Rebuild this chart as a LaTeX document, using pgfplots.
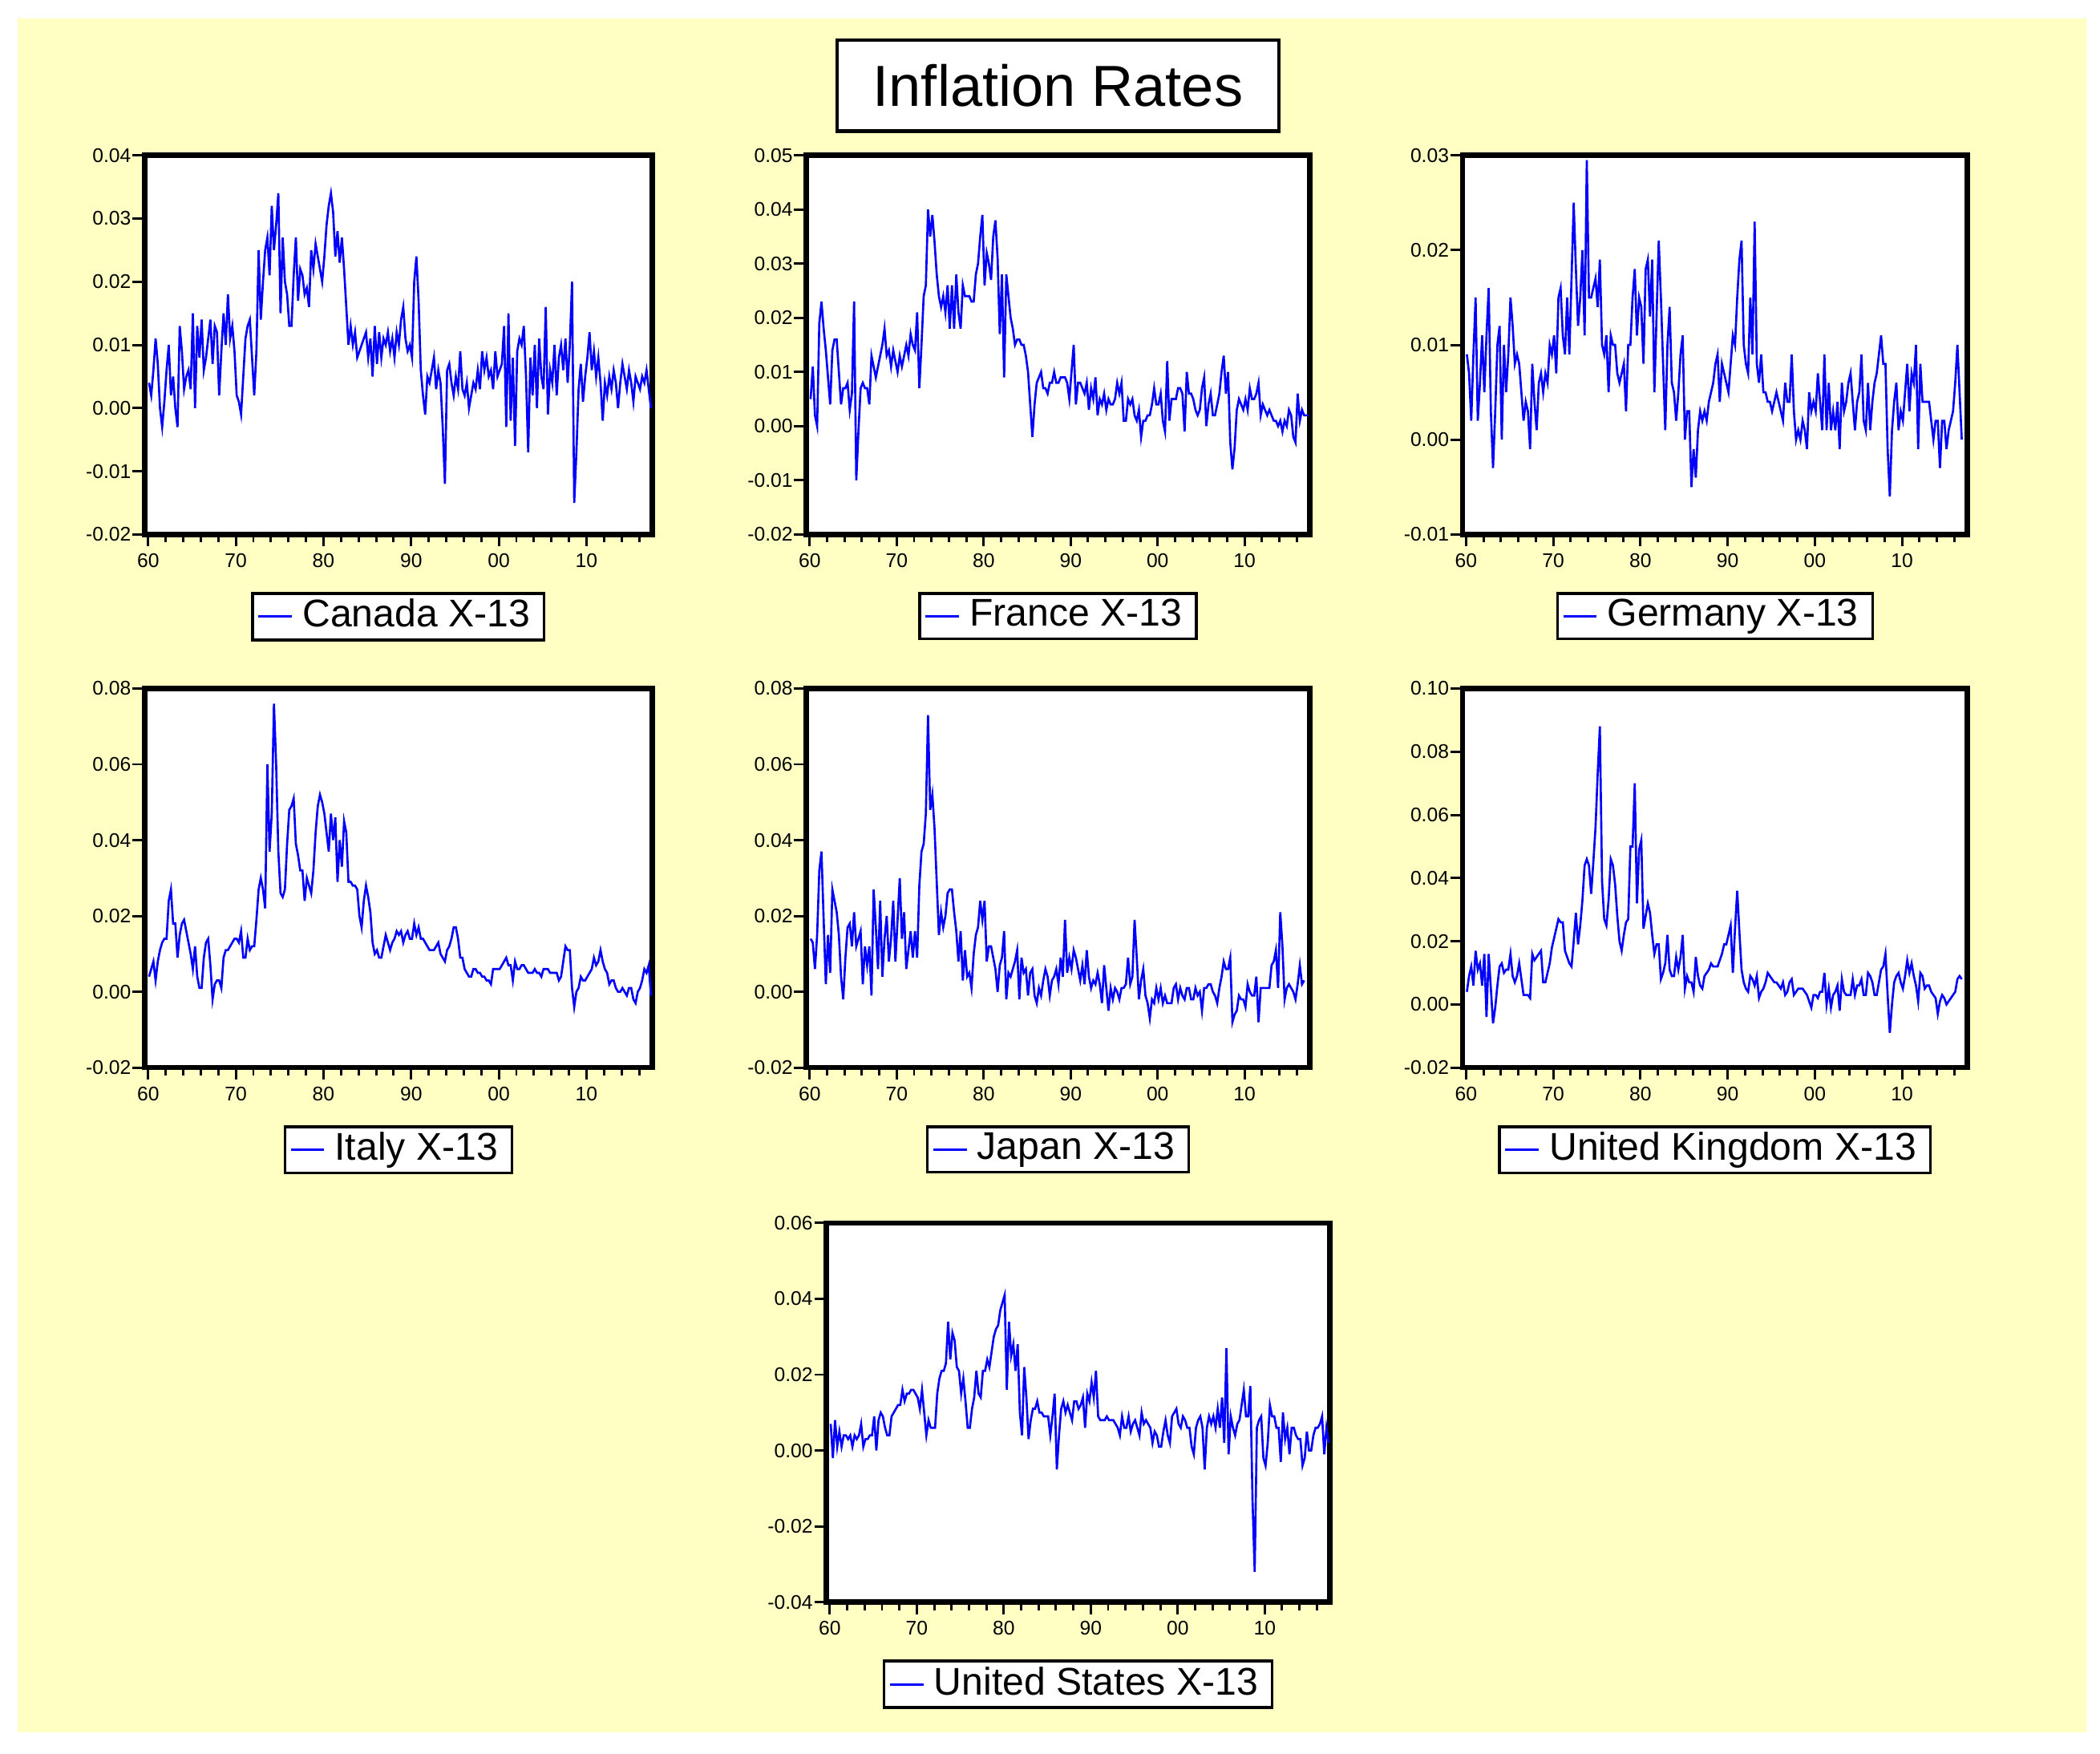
\documentclass[border=0pt]{standalone}
\usepackage{pgfplots}
\pgfplotsset{compat=1.18}
\usepackage{pgfplotstable}
\usepackage{fontspec}
\setmainfont{Liberation Sans}

\definecolor{bgyellow}{RGB}{255,255,196}
\definecolor{lineblue}{RGB}{0,0,255}

% quarterly values, 1960Q1 onwards
\pgfplotstableread[row sep=\\]{
y\\
0.004\\ 0.002\\ 0.006\\ 0.011\\
0.007\\ 0.000\\ -0.003\\ 0.001\\
0.006\\ 0.010\\ 0.002\\ 0.005\\
0.000\\ -0.003\\ 0.013\\ 0.009\\
0.003\\ 0.005\\ 0.006\\ 0.003\\
0.015\\ 0.000\\ 0.013\\ 0.008\\
0.014\\ 0.006\\ 0.008\\ 0.011\\
0.014\\ 0.007\\ 0.013\\ 0.012\\
0.002\\ 0.009\\ 0.015\\ 0.010\\
0.018\\ 0.011\\ 0.013\\ 0.009\\
0.002\\ 0.001\\ -0.001\\ 0.005\\
0.011\\ 0.013\\ 0.014\\ 0.008\\
0.002\\ 0.009\\ 0.025\\ 0.014\\
0.020\\ 0.025\\ 0.027\\ 0.021\\
0.032\\ 0.025\\ 0.029\\ 0.034\\
0.015\\ 0.027\\ 0.020\\ 0.018\\
0.013\\ 0.013\\ 0.021\\ 0.027\\
0.017\\ 0.022\\ 0.021\\ 0.018\\
0.019\\ 0.016\\ 0.025\\ 0.022\\
0.026\\ 0.024\\ 0.022\\ 0.020\\
0.024\\ 0.029\\ 0.032\\ 0.034\\
0.031\\ 0.024\\ 0.028\\ 0.023\\
0.027\\ 0.022\\ 0.016\\ 0.010\\
0.013\\ 0.010\\ 0.012\\ 0.008\\
0.009\\ 0.010\\ 0.011\\ 0.012\\
0.008\\ 0.011\\ 0.005\\ 0.013\\
0.007\\ 0.012\\ 0.008\\ 0.011\\
0.010\\ 0.012\\ 0.009\\ 0.011\\
0.008\\ 0.012\\ 0.010\\ 0.014\\
0.016\\ 0.011\\ 0.009\\ 0.010\\
0.008\\ 0.020\\ 0.024\\ 0.017\\
0.006\\ 0.002\\ -0.001\\ 0.005\\
0.004\\ 0.006\\ 0.008\\ 0.003\\
0.006\\ 0.004\\ -0.003\\ -0.012\\
0.006\\ 0.007\\ 0.004\\ 0.002\\
0.005\\ 0.003\\ 0.009\\ 0.003\\
0.002\\ 0.004\\ 0.000\\ 0.002\\
0.004\\ 0.003\\ 0.006\\ 0.003\\
0.009\\ 0.006\\ 0.008\\ 0.005\\
0.006\\ 0.003\\ 0.009\\ 0.005\\
0.006\\ 0.007\\ 0.013\\ -0.003\\
0.015\\ -0.002\\ 0.008\\ -0.006\\
0.009\\ 0.011\\ 0.010\\ 0.013\\
0.005\\ -0.007\\ 0.008\\ 0.002\\
0.010\\ 0.000\\ 0.011\\ 0.005\\
0.003\\ 0.016\\ -0.001\\ 0.006\\
0.004\\ 0.010\\ 0.002\\ 0.008\\
0.010\\ 0.006\\ 0.011\\ 0.004\\
0.010\\ 0.020\\ -0.015\\ -0.007\\
0.003\\ 0.007\\ 0.001\\ 0.005\\
0.008\\ 0.012\\ 0.006\\ 0.009\\
0.005\\ 0.008\\ 0.004\\ -0.002\\
0.004\\ 0.002\\ 0.005\\ 0.003\\
0.006\\ 0.004\\ 0.000\\ 0.004\\
0.007\\ 0.005\\ 0.003\\ 0.006\\
0.004\\ 0.001\\ 0.005\\ 0.004\\
0.003\\ 0.005\\ 0.004\\ 0.006\\
0.003\\ 0.000\\
}\canada

\pgfplotstableread[row sep=\\]{
y\\
0.005\\ 0.011\\ 0.002\\ 0.000\\
0.019\\ 0.023\\ 0.018\\ 0.014\\
0.009\\ 0.004\\ 0.014\\ 0.016\\
0.016\\ 0.010\\ 0.004\\ 0.007\\
0.007\\ 0.008\\ 0.003\\ 0.006\\
0.023\\ -0.010\\ -0.001\\ 0.007\\
0.008\\ 0.007\\ 0.007\\ 0.004\\
0.013\\ 0.011\\ 0.009\\ 0.011\\
0.013\\ 0.015\\ 0.018\\ 0.013\\
0.014\\ 0.011\\ 0.014\\ 0.012\\
0.010\\ 0.013\\ 0.011\\ 0.013\\
0.015\\ 0.013\\ 0.017\\ 0.015\\
0.014\\ 0.021\\ 0.007\\ 0.015\\
0.024\\ 0.026\\ 0.040\\ 0.035\\
0.039\\ 0.034\\ 0.028\\ 0.024\\
0.022\\ 0.024\\ 0.021\\ 0.026\\
0.018\\ 0.026\\ 0.018\\ 0.028\\
0.021\\ 0.018\\ 0.026\\ 0.024\\
0.024\\ 0.024\\ 0.023\\ 0.023\\
0.028\\ 0.030\\ 0.035\\ 0.039\\
0.026\\ 0.032\\ 0.030\\ 0.027\\
0.035\\ 0.038\\ 0.031\\ 0.017\\
0.028\\ 0.009\\ 0.028\\ 0.024\\
0.020\\ 0.018\\ 0.015\\ 0.016\\
0.016\\ 0.015\\ 0.015\\ 0.013\\
0.010\\ 0.004\\ -0.002\\ 0.004\\
0.008\\ 0.009\\ 0.010\\ 0.007\\
0.007\\ 0.006\\ 0.008\\ 0.008\\
0.010\\ 0.008\\ 0.008\\ 0.009\\
0.009\\ 0.009\\ 0.008\\ 0.005\\
0.010\\ 0.015\\ 0.004\\ 0.008\\
0.008\\ 0.007\\ 0.006\\ 0.008\\
0.003\\ 0.007\\ 0.005\\ 0.009\\
0.002\\ 0.005\\ 0.004\\ 0.006\\
0.003\\ 0.005\\ 0.004\\ 0.004\\
0.005\\ 0.008\\ 0.006\\ 0.008\\
0.001\\ 0.001\\ 0.005\\ 0.004\\
0.005\\ 0.002\\ 0.001\\ 0.003\\
-0.002\\ 0.001\\ 0.001\\ 0.002\\
0.002\\ 0.004\\ 0.007\\ 0.004\\
0.004\\ 0.006\\ 0.001\\ -0.001\\
0.012\\ 0.001\\ 0.005\\ 0.005\\
0.005\\ 0.007\\ 0.007\\ 0.006\\
-0.001\\ 0.010\\ 0.006\\ 0.006\\
0.005\\ 0.003\\ 0.002\\ 0.003\\
0.007\\ 0.009\\ 0.000\\ 0.004\\
0.006\\ 0.002\\ 0.002\\ 0.004\\
0.006\\ 0.010\\ 0.013\\ 0.006\\
0.010\\ -0.003\\ -0.008\\ -0.004\\
0.003\\ 0.005\\ 0.004\\ 0.003\\
0.005\\ 0.003\\ 0.007\\ 0.005\\
0.005\\ 0.006\\ 0.008\\ 0.002\\
0.004\\ 0.003\\ 0.002\\ 0.003\\
0.002\\ 0.001\\ 0.001\\ 0.000\\
0.001\\ -0.001\\ 0.001\\ 0.000\\
0.003\\ 0.002\\ -0.002\\ -0.003\\
0.006\\ 0.001\\ 0.003\\ 0.002\\
0.002\\ 0.002\\
}\france

\pgfplotstableread[row sep=\\]{
y\\
0.009\\ 0.007\\ 0.002\\ 0.009\\
0.015\\ 0.002\\ 0.006\\ 0.011\\
0.005\\ 0.011\\ 0.016\\ 0.003\\
-0.003\\ 0.003\\ 0.010\\ 0.012\\
0.000\\ 0.010\\ 0.005\\ 0.009\\
0.015\\ 0.012\\ 0.008\\ 0.009\\
0.008\\ 0.005\\ 0.002\\ 0.004\\
0.003\\ -0.001\\ 0.008\\ 0.004\\
0.001\\ 0.006\\ 0.007\\ 0.005\\
0.007\\ 0.006\\ 0.010\\ 0.009\\
0.011\\ 0.007\\ 0.015\\ 0.016\\
0.011\\ 0.009\\ 0.015\\ 0.009\\
0.017\\ 0.025\\ 0.018\\ 0.012\\
0.015\\ 0.020\\ 0.011\\ 0.0295\\
0.015\\ 0.015\\ 0.016\\ 0.017\\
0.014\\ 0.019\\ 0.010\\ 0.009\\
0.011\\ 0.005\\ 0.011\\ 0.010\\
0.010\\ 0.007\\ 0.006\\ 0.007\\
0.008\\ 0.003\\ 0.010\\ 0.010\\
0.015\\ 0.018\\ 0.011\\ 0.015\\
0.014\\ 0.008\\ 0.018\\ 0.019\\
0.013\\ 0.019\\ 0.005\\ 0.013\\
0.021\\ 0.015\\ 0.008\\ 0.001\\
0.010\\ 0.014\\ 0.006\\ 0.005\\
0.002\\ 0.005\\ 0.009\\ 0.011\\
0.000\\ 0.003\\ 0.003\\ -0.005\\
-0.001\\ -0.004\\ 0.001\\ 0.003\\
0.002\\ 0.003\\ 0.002\\ 0.004\\
0.005\\ 0.006\\ 0.008\\ 0.009\\
0.004\\ 0.008\\ 0.007\\ 0.006\\
0.005\\ 0.008\\ 0.011\\ 0.010\\
0.015\\ 0.019\\ 0.021\\ 0.010\\
0.008\\ 0.007\\ 0.015\\ 0.009\\
0.023\\ 0.008\\ 0.006\\ 0.009\\
0.005\\ 0.005\\ 0.004\\ 0.004\\
0.003\\ 0.004\\ 0.005\\ 0.004\\
0.003\\ 0.002\\ 0.006\\ 0.004\\
0.004\\ 0.009\\ 0.003\\ 0.000\\
0.001\\ 0.000\\ 0.002\\ 0.001\\
-0.001\\ 0.005\\ 0.003\\ 0.004\\
0.003\\ 0.007\\ 0.004\\ 0.001\\
0.009\\ 0.001\\ 0.006\\ 0.001\\
0.003\\ 0.001\\ 0.004\\ -0.001\\
0.006\\ 0.003\\ 0.004\\ 0.006\\
0.007\\ 0.004\\ 0.001\\ 0.004\\
0.005\\ 0.009\\ 0.002\\ 0.001\\
0.006\\ 0.001\\ 0.004\\ 0.006\\
0.007\\ 0.009\\ 0.011\\ 0.008\\
0.008\\ -0.001\\ -0.006\\ 0.001\\
0.004\\ 0.006\\ 0.001\\ 0.003\\
0.002\\ 0.005\\ 0.008\\ 0.003\\
0.007\\ 0.006\\ 0.010\\ -0.001\\
0.008\\ 0.004\\ 0.004\\ 0.004\\
0.004\\ 0.002\\ 0.000\\ 0.002\\
0.002\\ -0.003\\ 0.002\\ 0.002\\
-0.001\\ 0.001\\ 0.002\\ 0.003\\
0.006\\ 0.010\\ 0.005\\ 0.000\\
}\germany

\pgfplotstableread[row sep=\\]{
y\\
0.004\\ 0.006\\ 0.008\\ 0.003\\
0.008\\ 0.011\\ 0.013\\ 0.014\\
0.014\\ 0.024\\ 0.027\\ 0.018\\
0.018\\ 0.009\\ 0.015\\ 0.018\\
0.019\\ 0.016\\ 0.013\\ 0.010\\
0.006\\ 0.012\\ 0.004\\ 0.001\\
0.001\\ 0.009\\ 0.013\\ 0.014\\
0.007\\ -0.002\\ 0.002\\ 0.003\\
0.003\\ 0.001\\ 0.009\\ 0.011\\
0.011\\ 0.012\\ 0.013\\ 0.014\\
0.014\\ 0.013\\ 0.016\\ 0.009\\
0.009\\ 0.014\\ 0.011\\ 0.012\\
0.012\\ 0.019\\ 0.027\\ 0.030\\
0.027\\ 0.022\\ 0.060\\ 0.037\\
0.047\\ 0.076\\ 0.060\\ 0.037\\
0.026\\ 0.025\\ 0.027\\ 0.039\\
0.048\\ 0.049\\ 0.051\\ 0.039\\
0.036\\ 0.032\\ 0.032\\ 0.024\\
0.030\\ 0.028\\ 0.026\\ 0.032\\
0.042\\ 0.049\\ 0.052\\ 0.050\\
0.047\\ 0.042\\ 0.037\\ 0.047\\
0.040\\ 0.046\\ 0.029\\ 0.040\\
0.033\\ 0.045\\ 0.042\\ 0.029\\
0.029\\ 0.028\\ 0.028\\ 0.027\\
0.020\\ 0.017\\ 0.024\\ 0.028\\
0.025\\ 0.021\\ 0.013\\ 0.010\\
0.011\\ 0.009\\ 0.009\\ 0.012\\
0.015\\ 0.013\\ 0.011\\ 0.013\\
0.014\\ 0.016\\ 0.015\\ 0.016\\
0.013\\ 0.015\\ 0.016\\ 0.014\\
0.014\\ 0.018\\ 0.015\\ 0.017\\
0.014\\ 0.014\\ 0.013\\ 0.012\\
0.011\\ 0.011\\ 0.011\\ 0.012\\
0.013\\ 0.010\\ 0.009\\ 0.008\\
0.011\\ 0.012\\ 0.014\\ 0.017\\
0.017\\ 0.014\\ 0.009\\ 0.009\\
0.006\\ 0.005\\ 0.004\\ 0.004\\
0.006\\ 0.006\\ 0.005\\ 0.005\\
0.004\\ 0.004\\ 0.003\\ 0.003\\
0.002\\ 0.006\\ 0.006\\ 0.006\\
0.006\\ 0.007\\ 0.008\\ 0.009\\
0.007\\ 0.007\\ 0.003\\ 0.008\\
0.006\\ 0.006\\ 0.007\\ 0.007\\
0.006\\ 0.005\\ 0.005\\ 0.005\\
0.006\\ 0.005\\ 0.005\\ 0.004\\
0.006\\ 0.006\\ 0.006\\ 0.005\\
0.005\\ 0.005\\ 0.005\\ 0.003\\
0.004\\ 0.008\\ 0.012\\ 0.011\\
0.011\\ 0.001\\ -0.004\\ 0.000\\
0.001\\ 0.004\\ 0.003\\ 0.003\\
0.004\\ 0.005\\ 0.006\\ 0.009\\
0.007\\ 0.008\\ 0.011\\ 0.008\\
0.006\\ 0.005\\ 0.002\\ 0.003\\
0.003\\ 0.001\\ 0.000\\ 0.000\\
0.001\\ 0.000\\ -0.001\\ 0.001\\
0.001\\ -0.002\\ -0.003\\ 0.000\\
0.001\\ 0.003\\ 0.006\\ 0.005\\
0.007\\ -0.001\\
}\italy

\pgfplotstableread[row sep=\\]{
y\\
0.014\\ 0.013\\ 0.006\\ 0.015\\
0.032\\ 0.037\\ 0.019\\ 0.002\\
0.015\\ 0.005\\ 0.027\\ 0.024\\
0.021\\ 0.015\\ 0.004\\ -0.002\\
0.009\\ 0.017\\ 0.018\\ 0.012\\
0.021\\ 0.012\\ 0.014\\ 0.016\\
0.002\\ 0.012\\ 0.007\\ 0.012\\
-0.001\\ 0.027\\ 0.017\\ 0.006\\
0.024\\ 0.004\\ 0.014\\ 0.020\\
0.008\\ 0.014\\ 0.024\\ 0.008\\
0.019\\ 0.030\\ 0.014\\ 0.021\\
0.006\\ 0.011\\ 0.016\\ 0.009\\
0.016\\ 0.009\\ 0.028\\ 0.037\\
0.039\\ 0.047\\ 0.073\\ 0.048\\
0.052\\ 0.043\\ 0.029\\ 0.015\\
0.021\\ 0.017\\ 0.020\\ 0.026\\
0.027\\ 0.027\\ 0.021\\ 0.016\\
0.008\\ 0.016\\ 0.003\\ 0.011\\
0.004\\ 0.005\\ 0.001\\ 0.010\\
0.015\\ 0.017\\ 0.024\\ 0.019\\
0.024\\ 0.008\\ 0.012\\ 0.012\\
0.009\\ 0.006\\ 0.000\\ 0.007\\
0.009\\ 0.016\\ -0.002\\ 0.005\\
0.004\\ 0.006\\ 0.008\\ 0.011\\
-0.002\\ 0.009\\ 0.005\\ 0.006\\
-0.001\\ 0.005\\ 0.006\\ -0.001\\
-0.003\\ 0.001\\ -0.001\\ 0.003\\
0.006\\ 0.004\\ -0.001\\ 0.003\\
0.004\\ 0.006\\ 0.002\\ 0.009\\
0.004\\ 0.019\\ 0.005\\ 0.009\\
0.006\\ 0.011\\ 0.009\\ 0.006\\
0.003\\ 0.007\\ 0.002\\ 0.011\\
0.004\\ 0.001\\ 0.003\\ 0.002\\
0.005\\ 0.002\\ -0.003\\ 0.007\\
0.001\\ -0.005\\ 0.001\\ -0.002\\
0.001\\ 0.000\\ -0.002\\ 0.001\\
0.001\\ 0.002\\ 0.009\\ 0.002\\
0.004\\ 0.019\\ 0.009\\ -0.002\\
0.003\\ 0.006\\ -0.001\\ -0.003\\
-0.007\\ -0.002\\ -0.003\\ 0.001\\
-0.002\\ 0.001\\ -0.003\\ -0.001\\
-0.003\\ -0.003\\ -0.003\\ 0.001\\
0.002\\ -0.002\\ 0.001\\ -0.001\\
-0.002\\ 0.001\\ 0.001\\ -0.002\\
-0.002\\ 0.001\\ -0.001\\ 0.000\\
-0.005\\ 0.001\\ 0.001\\ 0.002\\
0.002\\ 0.000\\ -0.001\\ -0.003\\
0.001\\ 0.004\\ 0.008\\ 0.006\\
0.006\\ 0.009\\ -0.008\\ -0.006\\
-0.005\\ -0.001\\ -0.002\\ -0.002\\
-0.004\\ 0.002\\ 0.000\\ -0.001\\
-0.001\\ 0.004\\ -0.008\\ 0.001\\
0.001\\ 0.001\\ 0.001\\ 0.001\\
0.007\\ 0.008\\ 0.011\\ 0.001\\
0.021\\ 0.012\\ -0.002\\ 0.001\\
0.002\\ 0.001\\ 0.000\\ -0.002\\
0.002\\ 0.007\\ 0.002\\ 0.003\\
}\japan

\pgfplotstableread[row sep=\\]{
y\\
0.004\\ 0.009\\ 0.012\\ 0.006\\
0.017\\ 0.011\\ 0.013\\ 0.006\\
0.016\\ -0.004\\ 0.016\\ 0.005\\
-0.006\\ -0.001\\ 0.006\\ 0.012\\
0.013\\ 0.010\\ 0.011\\ 0.011\\
0.016\\ 0.009\\ 0.007\\ 0.009\\
0.013\\ 0.008\\ 0.003\\ 0.003\\
0.003\\ 0.002\\ 0.016\\ 0.014\\
0.015\\ 0.016\\ 0.017\\ 0.007\\
0.007\\ 0.010\\ 0.013\\ 0.018\\
0.021\\ 0.024\\ 0.027\\ 0.026\\
0.026\\ 0.017\\ 0.015\\ 0.013\\
0.012\\ 0.020\\ 0.029\\ 0.019\\
0.025\\ 0.033\\ 0.044\\ 0.046\\
0.044\\ 0.035\\ 0.045\\ 0.056\\
0.073\\ 0.088\\ 0.039\\ 0.027\\
0.025\\ 0.033\\ 0.046\\ 0.044\\
0.038\\ 0.028\\ 0.020\\ 0.017\\
0.022\\ 0.026\\ 0.027\\ 0.050\\
0.050\\ 0.070\\ 0.032\\ 0.049\\
0.052\\ 0.024\\ 0.028\\ 0.032\\
0.029\\ 0.022\\ 0.016\\ 0.019\\
0.019\\ 0.008\\ 0.010\\ 0.013\\
0.022\\ 0.011\\ 0.009\\ 0.009\\
0.015\\ 0.011\\ 0.015\\ 0.022\\
0.005\\ 0.009\\ 0.007\\ 0.007\\
0.004\\ 0.015\\ 0.009\\ 0.006\\
0.005\\ 0.009\\ 0.010\\ 0.011\\
0.013\\ 0.012\\ 0.012\\ 0.012\\
0.014\\ 0.016\\ 0.019\\ 0.019\\
0.022\\ 0.025\\ 0.010\\ 0.024\\
0.036\\ 0.023\\ 0.011\\ 0.007\\
0.005\\ 0.004\\ 0.009\\ 0.008\\
0.006\\ 0.009\\ 0.002\\ 0.004\\
0.005\\ 0.007\\ 0.010\\ 0.009\\
0.008\\ 0.007\\ 0.007\\ 0.006\\
0.005\\ 0.007\\ 0.003\\ 0.004\\
0.007\\ 0.008\\ 0.003\\ 0.004\\
0.005\\ 0.005\\ 0.005\\ 0.004\\
0.003\\ 0.001\\ -0.001\\ 0.003\\
0.003\\ 0.002\\ 0.004\\ 0.004\\
0.010\\ 0.000\\ 0.005\\ -0.001\\
0.003\\ 0.004\\ 0.006\\ -0.002\\
0.008\\ 0.004\\ 0.003\\ 0.003\\
0.003\\ 0.008\\ 0.003\\ 0.006\\
0.006\\ 0.008\\ 0.003\\ 0.003\\
0.010\\ 0.009\\ 0.007\\ 0.003\\
0.003\\ 0.007\\ 0.011\\ 0.012\\
0.016\\ 0.003\\ -0.009\\ 0.000\\
0.007\\ 0.009\\ 0.010\\ 0.007\\
0.005\\ 0.009\\ 0.014\\ 0.010\\
0.013\\ 0.009\\ 0.006\\ 0.001\\
0.010\\ 0.009\\ 0.005\\ 0.006\\
0.006\\ 0.004\\ 0.003\\ 0.002\\
-0.003\\ 0.001\\ 0.003\\ 0.002\\
0.000\\ 0.001\\ 0.002\\ 0.003\\
0.004\\ 0.008\\ 0.009\\ 0.008\\
}\uk

\pgfplotstableread[row sep=\\]{
y\\
0.007\\ -0.002\\ 0.008\\ 0.001\\
0.005\\ 0.001\\ 0.004\\ 0.004\\
0.003\\ 0.004\\ 0.001\\ 0.004\\
0.003\\ 0.004\\ 0.007\\ 0.001\\
0.003\\ 0.003\\ 0.004\\ 0.004\\
0.009\\ 0.000\\ 0.008\\ 0.010\\
0.009\\ 0.006\\ 0.004\\ 0.004\\
0.009\\ 0.010\\ 0.011\\ 0.012\\
0.012\\ 0.016\\ 0.013\\ 0.015\\
0.015\\ 0.016\\ 0.016\\ 0.015\\
0.014\\ 0.011\\ 0.016\\ 0.010\\
0.004\\ 0.008\\ 0.006\\ 0.006\\
0.006\\ 0.015\\ 0.019\\ 0.021\\
0.021\\ 0.023\\ 0.034\\ 0.024\\
0.031\\ 0.029\\ 0.022\\ 0.021\\
0.015\\ 0.019\\ 0.013\\ 0.006\\
0.006\\ 0.011\\ 0.014\\ 0.021\\
0.015\\ 0.014\\ 0.021\\ 0.021\\
0.024\\ 0.022\\ 0.026\\ 0.030\\
0.032\\ 0.033\\ 0.037\\ 0.039\\
0.041\\ 0.016\\ 0.034\\ 0.025\\
0.028\\ 0.021\\ 0.028\\ 0.010\\
0.004\\ 0.022\\ 0.014\\ 0.003\\
0.008\\ 0.011\\ 0.011\\ 0.013\\
0.010\\ 0.010\\ 0.009\\ 0.009\\
0.009\\ 0.004\\ 0.009\\ 0.015\\
-0.005\\ 0.004\\ 0.011\\ 0.013\\
0.010\\ 0.012\\ 0.010\\ 0.008\\
0.013\\ 0.013\\ 0.011\\ 0.012\\
0.014\\ 0.006\\ 0.015\\ 0.013\\
0.018\\ 0.014\\ 0.021\\ 0.009\\
0.008\\ 0.008\\ 0.008\\ 0.009\\
0.008\\ 0.008\\ 0.008\\ 0.007\\
0.006\\ 0.004\\ 0.009\\ 0.006\\
0.006\\ 0.009\\ 0.005\\ 0.007\\
0.008\\ 0.006\\ 0.004\\ 0.010\\
0.007\\ 0.008\\ 0.007\\ 0.006\\
0.002\\ 0.005\\ 0.004\\ 0.001\\
0.001\\ 0.005\\ 0.008\\ 0.004\\
0.002\\ 0.009\\ 0.010\\ 0.011\\
0.007\\ 0.006\\ 0.009\\ 0.008\\
0.006\\ 0.006\\ 0.001\\ -0.001\\
0.006\\ 0.008\\ 0.009\\ 0.006\\
-0.005\\ 0.006\\ 0.009\\ 0.007\\
0.009\\ 0.006\\ 0.011\\ 0.006\\
0.014\\ 0.002\\ 0.027\\ -0.001\\
0.009\\ 0.006\\ 0.004\\ 0.007\\
0.008\\ 0.012\\ 0.016\\ 0.009\\
0.009\\ 0.017\\ -0.013\\ -0.032\\
0.006\\ 0.008\\ 0.009\\ -0.002\\
-0.004\\ 0.002\\ 0.012\\ 0.009\\
0.009\\ 0.006\\ 0.006\\ -0.003\\
0.010\\ 0.003\\ 0.006\\ -0.001\\
0.006\\ 0.006\\ 0.004\\ 0.003\\
0.003\\ -0.004\\ -0.002\\ 0.005\\
0.000\\ 0.000\\ 0.004\\ 0.006\\
0.006\\ 0.007\\ 0.009\\ -0.001\\
0.006\\ 0.002\\
}\us

\pgfplotsset{
  panel/.style={
    scale only axis,
    height=2.83cm,
    xmin=1959.6, xmax=2017.5,
    scaled y ticks=false, scaled x ticks=false,
    axis background/.style={fill=white},
    axis line style={line width=1.1pt},
    tick align=outside,
    xtick pos=bottom, ytick pos=left,
    xtick={1960,1970,1980,1990,2000,2010},
    xticklabels={60,70,80,90,00,10},
    minor xtick={1962,1964,...,2016},
    major tick length=0.09cm,
    minor tick length=0.06cm,
    every tick/.style={black, line width=0.5pt},
    tick label style={font=\fontsize{4.2}{5}\selectfont},
    xticklabel style={yshift=2pt},
    yticklabel style={xshift=3.2pt},
    legend style={at={(0.5,-0.152)}, anchor=north, draw=black,
      line width=0.6pt, fill=white,
      font=\fontsize{8.2}{9.5}\selectfont,
      inner xsep=1pt, inner ysep=0pt,
      nodes={inner ysep=1.2pt}},
    legend image code/.code={\draw[lineblue, line width=0.5pt] (0cm,0cm) -- (0.25cm,0cm);},
  },
  serie/.style={lineblue, line width=0.45pt},
}

\begin{document}
\begin{tikzpicture}
\fill[white] (0,0) rectangle (15.68,13.09);
\fill[bgyellow] (0.13,0.16) rectangle (15.58,12.95);
\node[draw, line width=0.8pt, fill=white, minimum width=3.30cm, minimum height=0.68cm,
  inner sep=0pt, font=\fontsize{12.3}{14}\selectfont] at (7.90,12.45) {Inflation Rates};

% row 1
\begin{axis}[panel, at={(1.08cm,9.10cm)}, anchor=south west, width=3.79cm,
  ymin=-0.02, ymax=0.04,
  ytick={-0.02,-0.01,0,0.01,0.02,0.03,0.04},
  yticklabels={-0.02,-0.01,0.00,0.01,0.02,0.03,0.04}]
\addplot[serie] table[x expr=1960.1+\coordindex/4, y=y] {\canada};
\addlegendentry{Canada X-13}
\end{axis}

\begin{axis}[panel, at={(6.02cm,9.10cm)}, anchor=south west, width=3.76cm,
  ymin=-0.02, ymax=0.05,
  ytick={-0.02,-0.01,0,0.01,0.02,0.03,0.04,0.05},
  yticklabels={-0.02,-0.01,0.00,0.01,0.02,0.03,0.04,0.05}]
\addplot[serie] table[x expr=1960.1+\coordindex/4, y=y] {\france};
\addlegendentry{France X-13}
\end{axis}

\begin{axis}[panel, at={(10.92cm,9.10cm)}, anchor=south west, width=3.77cm,
  ymin=-0.01, ymax=0.03,
  ytick={-0.01,0,0.01,0.02,0.03},
  yticklabels={-0.01,0.00,0.01,0.02,0.03}]
\addplot[serie] table[x expr=1960.1+\coordindex/4, y=y] {\germany};
\addlegendentry{Germany X-13}
\end{axis}

% row 2
\begin{axis}[panel, at={(1.08cm,5.12cm)}, anchor=south west, width=3.79cm,
  ymin=-0.02, ymax=0.08,
  ytick={-0.02,0,0.02,0.04,0.06,0.08},
  yticklabels={-0.02,0.00,0.02,0.04,0.06,0.08}]
\addplot[serie] table[x expr=1960.1+\coordindex/4, y=y] {\italy};
\addlegendentry{Italy X-13}
\end{axis}

\begin{axis}[panel, at={(6.02cm,5.12cm)}, anchor=south west, width=3.76cm,
  ymin=-0.02, ymax=0.08,
  ytick={-0.02,0,0.02,0.04,0.06,0.08},
  yticklabels={-0.02,0.00,0.02,0.04,0.06,0.08}]
\addplot[serie] table[x expr=1960.1+\coordindex/4, y=y] {\japan};
\addlegendentry{Japan X-13}
\end{axis}

\begin{axis}[panel, at={(10.92cm,5.12cm)}, anchor=south west, width=3.77cm,
  ymin=-0.02, ymax=0.10,
  ytick={-0.02,0,0.02,0.04,0.06,0.08,0.10},
  yticklabels={-0.02,0.00,0.02,0.04,0.06,0.08,0.10}]
\addplot[serie] table[x expr=1960.1+\coordindex/4, y=y] {\uk};
\addlegendentry{United Kingdom X-13}
\end{axis}

% row 3
\begin{axis}[panel, at={(6.17cm,1.13cm)}, anchor=south west, width=3.76cm,
  ymin=-0.04, ymax=0.06,
  ytick={-0.04,-0.02,0,0.02,0.04,0.06},
  yticklabels={-0.04,-0.02,0.00,0.02,0.04,0.06}]
\addplot[serie] table[x expr=1960.1+\coordindex/4, y=y] {\us};
\addlegendentry{United States X-13}
\end{axis}
\end{tikzpicture}
\end{document}
